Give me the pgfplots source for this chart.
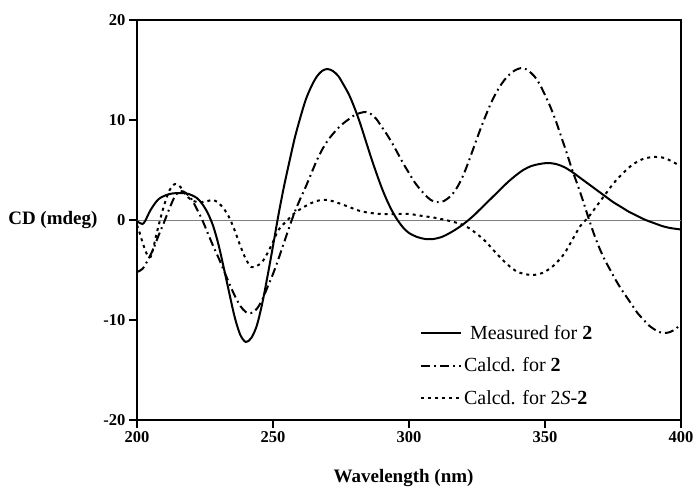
\documentclass[border=0pt]{standalone}
\usepackage{fontspec}
\setmainfont{Liberation Serif}
\usepackage{pgfplots}
\pgfplotsset{compat=1.18}
\begin{document}
\begin{tikzpicture}
\path[use as bounding box] (-137pt,-70pt) rectangle (560pt,420pt);
\begin{axis}[
  scale only axis, width=544pt, height=400pt,
  at={(0pt,0pt)}, anchor=south west,
  xmin=200, xmax=400, ymin=-20, ymax=20,
  axis line style={line width=1.8pt},
  xtick={200,250,300,350,400}, xticklabels={200,250,300,350,400},
  ytick={-20,-10,0,10,20}, yticklabels={-20,-10,0,10,20},
  xtick pos=bottom, ytick pos=left, tick align=outside,
  major tick length=8pt,
  tick style={line width=1.8pt, black},
  ticklabel style={font=\fontsize{16.5}{18}\selectfont\bfseries},
  xlabel={Wavelength (nm)},
  ylabel={CD (mdeg)},
  label style={font=\fontsize{19}{22}\selectfont\bfseries},
  xlabel style={at={(rel axis cs:0.49,0)}, anchor=center, yshift=-58pt},
  ylabel style={rotate=-90, at={(rel axis cs:0,0.5)}, anchor=east, xshift=-36pt},
  legend style={draw=none, fill=none, at={(0.52,0.2425)}, anchor=north west,
    font=\fontsize{20}{22}\selectfont, row sep=13pt, inner sep=0pt},
  legend cell align=left,
  legend image code/.code={\draw[#1] (0pt,0pt) -- (40pt,0pt);},
  clip=true,
]
\addplot[gray, line width=0.9pt, forget plot] coordinates {(200,0)(400,0)};
\addplot[black, line width=2pt, smooth] coordinates {
(200,-0.1)(201,-0.3)(202,-0.4)(203,-0.1)(205,1.0)(208,2.1)(212,2.6)(216,2.7)(219,2.6)(222,2.2)(224,1.6)(226,0.7)(228,-0.6)(230,-2.5)(232,-4.9)(234,-7.4)(236,-9.8)(238,-11.5)(240,-12.2)(242,-11.8)(244,-10.6)(246,-8.4)(248,-5.6)(250,-2.6)(252,0.5)(254,3.3)(256,5.8)(258,8.2)(260,10.2)(262,12.0)(264,13.3)(266,14.3)(268,14.9)(270,15.1)(272,14.9)(274,14.4)(276,13.5)(278,12.5)(280,11.2)(282,9.7)(284,8.0)(286,6.3)(288,4.7)(290,3.2)(292,1.9)(294,0.8)(296,-0.1)(298,-0.8)(300,-1.3)(303,-1.7)(306,-1.9)(309,-1.9)(312,-1.7)(315,-1.3)(318,-0.8)(321,-0.2)(324,0.5)(327,1.3)(330,2.1)(333,2.9)(336,3.7)(339,4.4)(342,5.0)(345,5.4)(348,5.6)(351,5.7)(354,5.6)(357,5.3)(360,4.8)(363,4.2)(366,3.6)(369,3.0)(372,2.4)(375,1.8)(378,1.3)(381,0.8)(384,0.4)(387,0.0)(390,-0.3)(393,-0.6)(396,-0.8)(400,-0.95)
};
\addlegendentry{\hspace{6pt}Measured for \textbf{2}}
\addplot[black, line width=2pt, smooth, dash pattern=on 9pt off 4pt on 1.8pt off 4pt] coordinates {
(200,-5.2)(202,-4.9)(204,-4.0)(206,-2.9)(208,-1.5)(210,-0.2)(212,1.2)(214,2.4)(216,2.9)(218,2.7)(220,2.1)(222,1.1)(224,0.0)(226,-1.3)(228,-2.6)(230,-3.8)(232,-5.1)(234,-6.4)(236,-7.6)(238,-8.6)(240,-9.2)(242,-9.3)(244,-8.9)(246,-8.0)(248,-6.7)(250,-5.4)(252,-3.9)(254,-2.3)(256,-0.7)(258,0.8)(260,2.1)(262,3.3)(264,4.6)(266,5.9)(268,7.0)(270,7.9)(272,8.6)(274,9.2)(276,9.7)(278,10.1)(280,10.5)(282,10.7)(284,10.8)(286,10.6)(288,10.1)(290,9.3)(292,8.5)(294,7.6)(296,6.6)(298,5.6)(300,4.7)(302,3.8)(304,3.1)(306,2.5)(308,2.0)(310,1.8)(312,1.8)(314,2.1)(316,2.6)(318,3.4)(320,4.5)(322,5.9)(324,7.4)(326,8.9)(328,10.3)(330,11.6)(332,12.7)(334,13.6)(336,14.3)(338,14.8)(340,15.1)(342,15.2)(344,14.9)(346,14.4)(348,13.6)(350,12.5)(352,11.3)(354,9.9)(356,8.3)(358,6.7)(360,5.0)(362,3.5)(364,1.9)(366,0.2)(368,-1.4)(370,-2.8)(372,-4.0)(374,-5.0)(376,-6.0)(378,-6.9)(380,-7.7)(382,-8.5)(384,-9.3)(386,-9.9)(388,-10.5)(390,-10.9)(392,-11.2)(394,-11.3)(396,-11.2)(398,-10.9)(400,-10.4)
};
\addlegendentry{Calcd. for \textbf{2}}
\addplot[black, line width=2pt, smooth, dash pattern=on 3pt off 4pt] coordinates {
(200,-0.5)(201,-1.3)(202,-2.2)(203,-3.0)(204,-3.6)(205,-3.7)(206,-2.8)(207,-1.6)(208,-0.5)(210,1.5)(212,3.0)(214,3.6)(216,3.3)(218,2.5)(220,2.0)(222,1.8)(224,1.8)(226,1.9)(228,2.0)(230,1.7)(232,1.1)(234,0.2)(236,-1.1)(238,-2.6)(240,-3.9)(242,-4.7)(244,-4.6)(246,-4.2)(248,-3.3)(250,-2.2)(252,-1.0)(255,-0.1)(258,0.7)(262,1.4)(266,1.9)(270,2.0)(274,1.7)(278,1.3)(282,0.9)(286,0.7)(290,0.6)(295,0.6)(300,0.6)(305,0.4)(310,0.2)(315,-0.1)(319,-0.4)(322,-0.8)(325,-1.4)(328,-2.1)(332,-3.3)(336,-4.4)(340,-5.2)(345,-5.5)(349,-5.3)(353,-4.6)(357,-3.4)(360,-2.0)(363,-0.6)(366,0.3)(369,1.4)(372,2.5)(375,3.6)(378,4.5)(382,5.5)(386,6.1)(390,6.3)(394,6.2)(397,5.8)(400,5.4)
};
\addlegendentry{Calcd. for 2\textit{S}-\textbf{2}}
\end{axis}
\end{tikzpicture}
\end{document}
